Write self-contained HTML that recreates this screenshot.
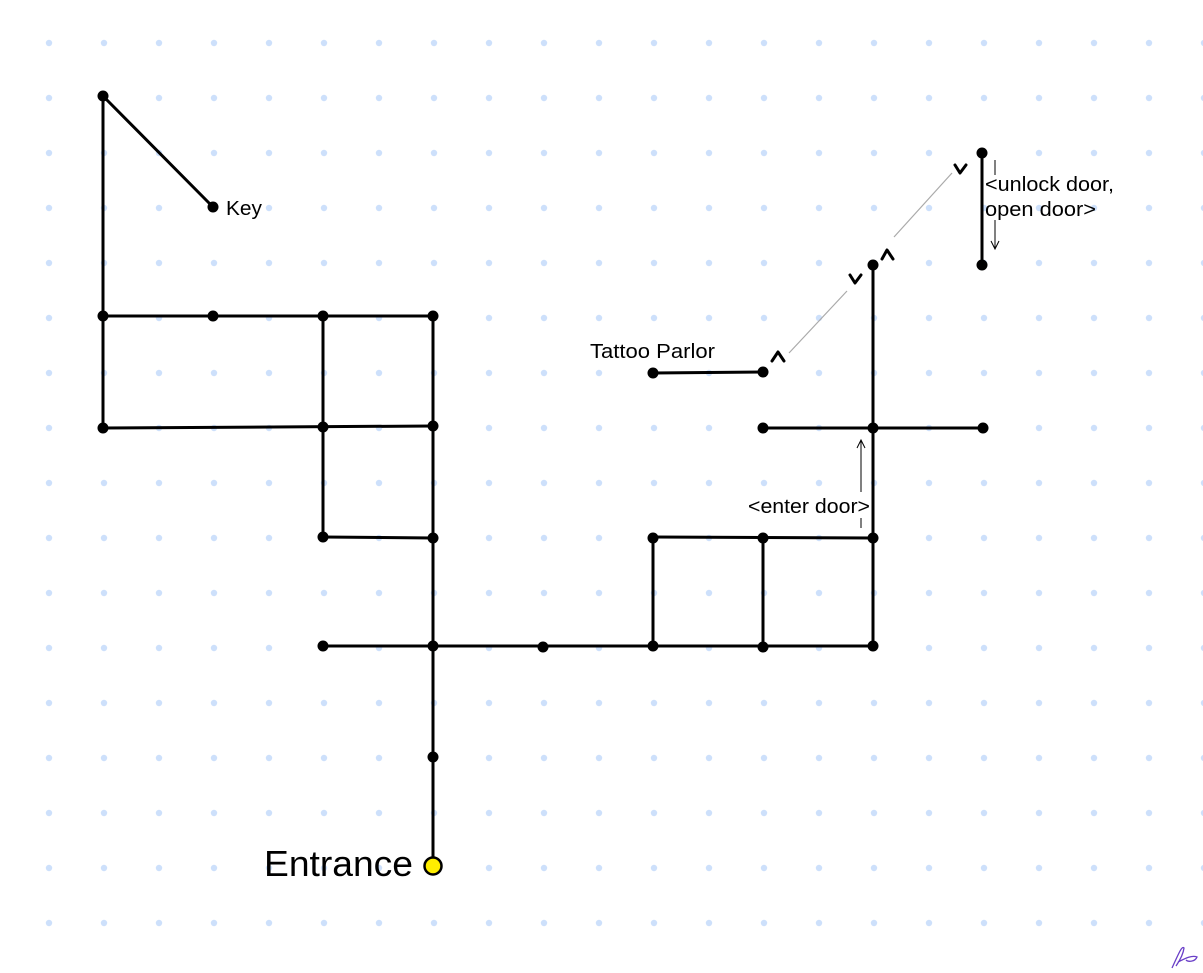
<!DOCTYPE html>
<html><head><meta charset="utf-8"><style>
html,body{margin:0;padding:0;background:#fff;}
svg{display:block;}
text{font-family:"Liberation Sans",sans-serif;fill:#000;}
</style></head><body>
<svg width="1203" height="973" viewBox="0 0 1203 973" xmlns="http://www.w3.org/2000/svg">
<defs>
<pattern id="g" x="21.5" y="15.5" width="55" height="55" patternUnits="userSpaceOnUse">
<circle cx="27.5" cy="27.5" r="3.2" fill="#cde0fb"/>
</pattern>
</defs>
<rect width="1203" height="973" fill="url(#g)"/>
<g stroke="#000" stroke-width="3" fill="none" stroke-linecap="round">
<line x1="103" y1="96" x2="213" y2="207"/>
<line x1="103" y1="96" x2="103" y2="428"/>
<line x1="103" y1="316" x2="433" y2="316"/>
<line x1="103" y1="428" x2="433" y2="426"/>
<line x1="323" y1="316" x2="323" y2="537"/>
<line x1="433" y1="316" x2="433" y2="858"/>
<line x1="323" y1="537" x2="433" y2="538"/>
<line x1="323" y1="646" x2="873" y2="646"/>
<line x1="653" y1="537" x2="873" y2="538"/>
<line x1="653" y1="537" x2="653" y2="646"/>
<line x1="763" y1="537" x2="763" y2="646"/>
<line x1="873" y1="265" x2="873" y2="646"/>
<line x1="763" y1="428" x2="983" y2="428"/>
<line x1="653" y1="373" x2="763" y2="372"/>
<line x1="982" y1="153" x2="982" y2="265"/>
</g>
<g fill="#000">
<circle cx="103" cy="96" r="5.5"/><circle cx="213" cy="207" r="5.5"/>
<circle cx="103" cy="316" r="5.5"/><circle cx="213" cy="316" r="5.5"/><circle cx="323" cy="316" r="5.5"/><circle cx="433" cy="316" r="5.5"/>
<circle cx="103" cy="428" r="5.5"/><circle cx="323" cy="427" r="5.5"/><circle cx="433" cy="426" r="5.5"/>
<circle cx="323" cy="537" r="5.5"/><circle cx="433" cy="538" r="5.5"/>
<circle cx="323" cy="646" r="5.5"/><circle cx="433" cy="646" r="5.5"/><circle cx="543" cy="647" r="5.5"/><circle cx="653" cy="646" r="5.5"/><circle cx="763" cy="647" r="5.5"/><circle cx="873" cy="646" r="5.5"/>
<circle cx="433" cy="757" r="5.5"/>
<circle cx="653" cy="538" r="5.5"/><circle cx="763" cy="538" r="5.5"/><circle cx="873" cy="538" r="5.5"/>
<circle cx="763" cy="428" r="5.5"/><circle cx="873" cy="428" r="5.5"/><circle cx="983" cy="428" r="5.5"/>
<circle cx="653" cy="373" r="5.5"/><circle cx="763" cy="372" r="5.5"/>
<circle cx="873" cy="265" r="5.5"/>
<circle cx="982" cy="153" r="5.5"/><circle cx="982" cy="265" r="5.5"/>
</g>
<circle cx="433" cy="866" r="8.5" fill="#ffee00" stroke="#000" stroke-width="2.5"/>
<g stroke="#aaa" stroke-width="1.2">
<line x1="789" y1="353" x2="847" y2="291"/>
<line x1="894" y1="237" x2="952" y2="173"/>
</g>
<g stroke="#000" stroke-width="3" fill="none" stroke-linecap="round" stroke-linejoin="round">
<polyline points="772,361 778,352 784,361"/>
<polyline points="850,275 855,283 861,275"/>
<polyline points="882,259 887,250 893,259"/>
<polyline points="955,165 960,173 966,165"/>
</g>
<g stroke="#000" stroke-width="1" fill="none">
<line x1="861" y1="440" x2="861" y2="492"/>
<line x1="861" y1="518" x2="861" y2="528"/>
<polyline points="857,448 861,440 865,448"/>
<line x1="995" y1="160" x2="995" y2="175"/>
<line x1="995" y1="220" x2="995" y2="249"/>
<polyline points="991,241 995,249 999,241"/>
</g>
<text x="226" y="215" font-size="20" textLength="36" lengthAdjust="spacingAndGlyphs">Key</text>
<text x="590" y="358" font-size="20" textLength="125" lengthAdjust="spacingAndGlyphs">Tattoo Parlor</text>
<text x="748" y="513" font-size="20" textLength="122" lengthAdjust="spacingAndGlyphs">&lt;enter door&gt;</text>
<text x="985" y="191" font-size="20" textLength="129" lengthAdjust="spacingAndGlyphs">&lt;unlock door,</text>
<text x="985" y="216" font-size="20" textLength="111" lengthAdjust="spacingAndGlyphs">open door&gt;</text>
<text x="264" y="876" font-size="36" textLength="149" lengthAdjust="spacingAndGlyphs">Entrance</text>
<path d="M1172,968 C1178,955 1182,945 1184,948 C1183,956 1178,963 1176,966 M1178,962 C1186,958 1192,955 1197,957 C1195,962 1188,962 1186,960" stroke="#6a3fc8" stroke-width="1.3" fill="none"/>
</svg>
</body></html>
